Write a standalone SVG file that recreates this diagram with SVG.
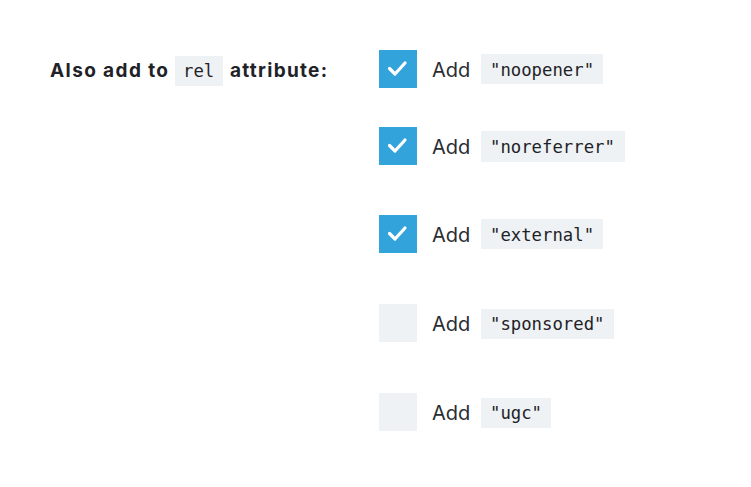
<svg xmlns="http://www.w3.org/2000/svg" width="751" height="487" viewBox="0 0 751 487">
<defs>
<style>
.lbl{font-family:Inter,"Open Sans","Liberation Sans",sans-serif;font-weight:700;font-size:19px;fill:#1f2227}
.add{font-family:Inter,"Open Sans","Liberation Sans",sans-serif;font-size:20px;fill:#2a2d33}
.code{font-family:"DejaVu Sans Mono","Liberation Mono",monospace;font-size:17.3px;fill:#1f2227}
.cbg{fill:#eef2f5}
.on{fill:#32a3db}
.off{fill:#eef2f5}
.tick{fill:none;stroke:#fff;stroke-width:3.2;stroke-linecap:round;stroke-linejoin:round}
</style>
<path id="chk" class="tick" d="M10.5 18.5 L16 24 L26 13"/>
</defs>
<rect width="751" height="487" fill="#fff"/>
<g id="label">
<text class="lbl" x="50" y="77" textLength="118" lengthAdjust="spacing">Also add to</text>
<rect class="cbg" x="175" y="56" width="48" height="30"/>
<text class="code" x="183" y="77">rel</text>
<text class="lbl" x="230" y="77" textLength="97" lengthAdjust="spacing">attribute:</text>
</g>
<g id="opt-noopener">
<rect class="on" x="379" y="50" width="38" height="38"/>
<use href="#chk" x="379" y="50"/>
<text class="add" x="432" y="77">Add</text>
<rect class="cbg" x="481" y="54" width="122" height="30"/>
<text class="code" x="490" y="76">"noopener"</text>
</g>
<g id="opt-noreferrer">
<rect class="on" x="379" y="127" width="38" height="38"/>
<use href="#chk" x="379" y="127"/>
<text class="add" x="432" y="154">Add</text>
<rect class="cbg" x="481" y="131" width="144" height="31"/>
<text class="code" x="490" y="153">"noreferrer"</text>
</g>
<g id="opt-external">
<rect class="on" x="379" y="215" width="38" height="38"/>
<use href="#chk" x="379" y="215"/>
<text class="add" x="432" y="242">Add</text>
<rect class="cbg" x="481" y="219" width="122" height="30"/>
<text class="code" x="490" y="241">"external"</text>
</g>
<g id="opt-sponsored">
<rect class="off" x="379" y="304" width="38" height="38"/>
<text class="add" x="432" y="331">Add</text>
<rect class="cbg" x="481" y="309" width="133" height="30"/>
<text class="code" x="490" y="330">"sponsored"</text>
</g>
<g id="opt-ugc">
<rect class="off" x="379" y="393" width="38" height="38"/>
<text class="add" x="432" y="420">Add</text>
<rect class="cbg" x="481" y="398" width="70" height="30"/>
<text class="code" x="490" y="419">"ugc"</text>
</g>
<g id="connectors"/>
</svg>
